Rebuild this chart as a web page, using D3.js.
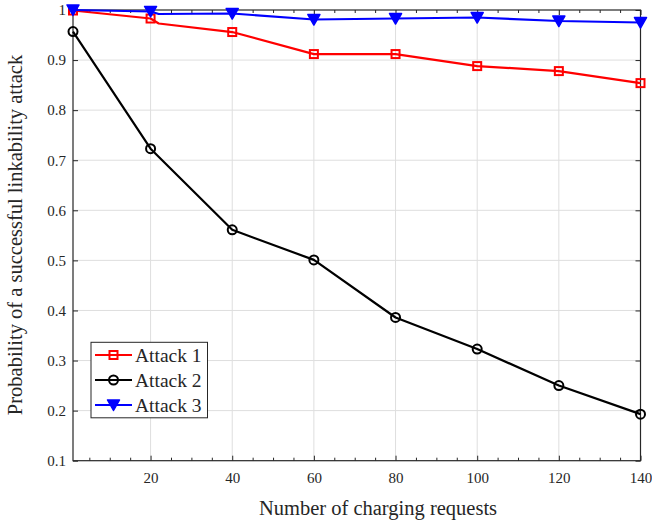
<!DOCTYPE html>
<html>
<head>
<meta charset="utf-8">
<script src="https://cdn.jsdelivr.net/npm/d3@7"></script>
<style>
  body { margin: 0; background: #fff; }
  svg text { font-family: "Liberation Serif", "DejaVu Serif", serif; fill: #262626; }
</style>
</head>
<body>
<div id="chart"></div>
<script>
// x positions (the 22 point only bends the line, no marker there)
var xRequests = [1, 20, 22, 40, 60, 80, 100, 120, 140];
var attack1 = [0.999, 0.983, 0.973, 0.956, 0.912, 0.912, 0.888, 0.878, 0.854];
var attack3 = [1.000, 0.997, 0.992, 0.993, 0.981, 0.983, 0.985, 0.978, 0.975];
var xAttack2 = [1, 20, 40, 60, 80, 100, 120, 140];
var attack2 = [0.957, 0.723, 0.561, 0.501, 0.386, 0.323, 0.250, 0.193];
var markerX = [1, 20, 40, 60, 80, 100, 120, 140];
var xTicks = [20, 40, 60, 80, 100, 120, 140];
var yTicks = [0.1, 0.2, 0.3, 0.4, 0.5, 0.6, 0.7, 0.8, 0.9, 1];
var legendNames = ["Attack 1", "Attack 2", "Attack 3"];

var width = 652, height = 523;
// plot box edges
var pLeft = 73, pRight = 640.5, pTop = 10, pBottom = 460.7;

var svg = d3.select("#chart").append("svg").attr("width", width).attr("height", height);

var x = d3.scaleLinear().domain([1, 140]).range([pLeft, pRight]);
var y = d3.scaleLinear().domain([0.1, 1]).range([pBottom, pTop]);

// grid
svg.append("g").selectAll("line").data(xTicks.slice(0, -1)).enter().append("line")
  .attr("x1", d => x(d)).attr("x2", d => x(d)).attr("y1", pTop).attr("y2", pBottom)
  .attr("stroke", "#dedede").attr("stroke-width", 1);
svg.append("g").selectAll("line").data(yTicks.slice(1, -1)).enter().append("line")
  .attr("y1", d => y(d)).attr("y2", d => y(d)).attr("x1", pLeft).attr("x2", pRight)
  .attr("stroke", "#dedede").attr("stroke-width", 1);

// axes (ticks pointing inwards)
var minor = d3.range(5, 141, 5).filter(d => d % 20 != 0);
var xAxisB = d3.axisBottom(x).tickValues(xTicks).tickSize(-5).tickPadding(12).tickFormat(d3.format("d"));
svg.append("g").attr("transform", "translate(0," + pBottom + ")").call(xAxisB);
svg.append("g").attr("transform", "translate(0," + pTop + ")")
  .call(d3.axisTop(x).tickValues(xTicks).tickSize(-5).tickFormat(""));
var yAxisL = d3.axisLeft(y).tickValues(yTicks).tickSize(-5).tickPadding(7)
  .tickFormat(d => d == 1 ? "1" : d3.format(".1f")(d));
svg.append("g").attr("transform", "translate(" + pLeft + ",0)").call(yAxisL);
svg.append("g").attr("transform", "translate(" + pRight + ",0)")
  .call(d3.axisRight(y).tickValues(yTicks).tickSize(-5).tickFormat(""));
svg.append("g").attr("transform", "translate(0," + pBottom + ")")
  .call(d3.axisBottom(x).tickValues(minor).tickSize(-3).tickFormat(""));
svg.append("g").attr("transform", "translate(0," + pTop + ")")
  .call(d3.axisTop(x).tickValues(minor).tickSize(-3).tickFormat(""));

svg.selectAll(".domain").remove();
svg.selectAll(".tick line").attr("stroke", "#262626");
svg.selectAll(".tick text").style("font-size", "15px");

svg.append("rect").attr("x", pLeft).attr("y", pTop).attr("width", pRight - pLeft).attr("height", pBottom - pTop)
  .attr("fill", "none").attr("stroke", "#262626").attr("stroke-width", 1.2);

// lines
var line = d3.line().x(d => x(d[0])).y(d => y(d[1]));
var series = [
  { name: legendNames[0], color: "#ff0000", pts: d3.zip(xRequests, attack1), shape: "square" },
  { name: legendNames[1], color: "#000000", pts: d3.zip(xAttack2, attack2), shape: "circle" },
  { name: legendNames[2], color: "#0000ff", pts: d3.zip(xRequests, attack3), shape: "triangle" }
];

function marker(g, s, cx, cy) {
  if (s.shape == "square") {
    g.append("rect").attr("x", cx - 4).attr("y", cy - 4).attr("width", 8).attr("height", 8)
      .attr("fill", "none").attr("stroke", s.color).attr("stroke-width", 2);
  } else if (s.shape == "circle") {
    g.append("circle").attr("cx", cx).attr("cy", cy).attr("r", 4.5)
      .attr("fill", "none").attr("stroke", s.color).attr("stroke-width", 2);
  } else {
    g.append("path").attr("d", "M" + (cx - 6) + "," + (cy - 5) + "L" + (cx + 6) + "," + (cy - 5) + "L" + cx + "," + (cy + 5.5) + "Z")
      .attr("fill", s.color).attr("stroke", s.color).attr("stroke-width", 1.5).attr("stroke-linejoin", "round");
  }
}

series.forEach(function (s) {
  svg.append("path").datum(s.pts).attr("d", line).attr("fill", "none")
    .attr("stroke", s.color).attr("stroke-width", 2.2).attr("stroke-linejoin", "round");
  var g = svg.append("g");
  s.pts.filter(p => markerX.indexOf(p[0]) >= 0).forEach(function (p) {
    marker(g, s, x(p[0]), y(p[1]));
  });
});

// legend
var lg = svg.append("g");
lg.append("rect").attr("x", 91).attr("y", 342.3).attr("width", 116.5).attr("height", 75.5)
  .attr("fill", "#fff").attr("stroke", "#262626").attr("stroke-width", 1);
series.forEach(function (s, i) {
  var ly = 355 + i * 25;
  lg.append("line").attr("x1", 95).attr("x2", 132).attr("y1", ly).attr("y2", ly)
    .attr("stroke", s.color).attr("stroke-width", 2.2);
  marker(lg, s, 113.5, ly);
  lg.append("text").attr("x", 135).attr("y", ly + 6.5).style("font-size", "19.5px").text(s.name);
});

// axis labels
svg.append("text").attr("x", 378).attr("y", 515).attr("text-anchor", "middle")
  .style("font-size", "20.5px").text("Number of charging requests");
svg.append("text").attr("transform", "translate(22,235) rotate(-90)").attr("text-anchor", "middle")
  .style("font-size", "20.5px").text("Probability of a successful linkability attack");
</script>
</body>
</html>
